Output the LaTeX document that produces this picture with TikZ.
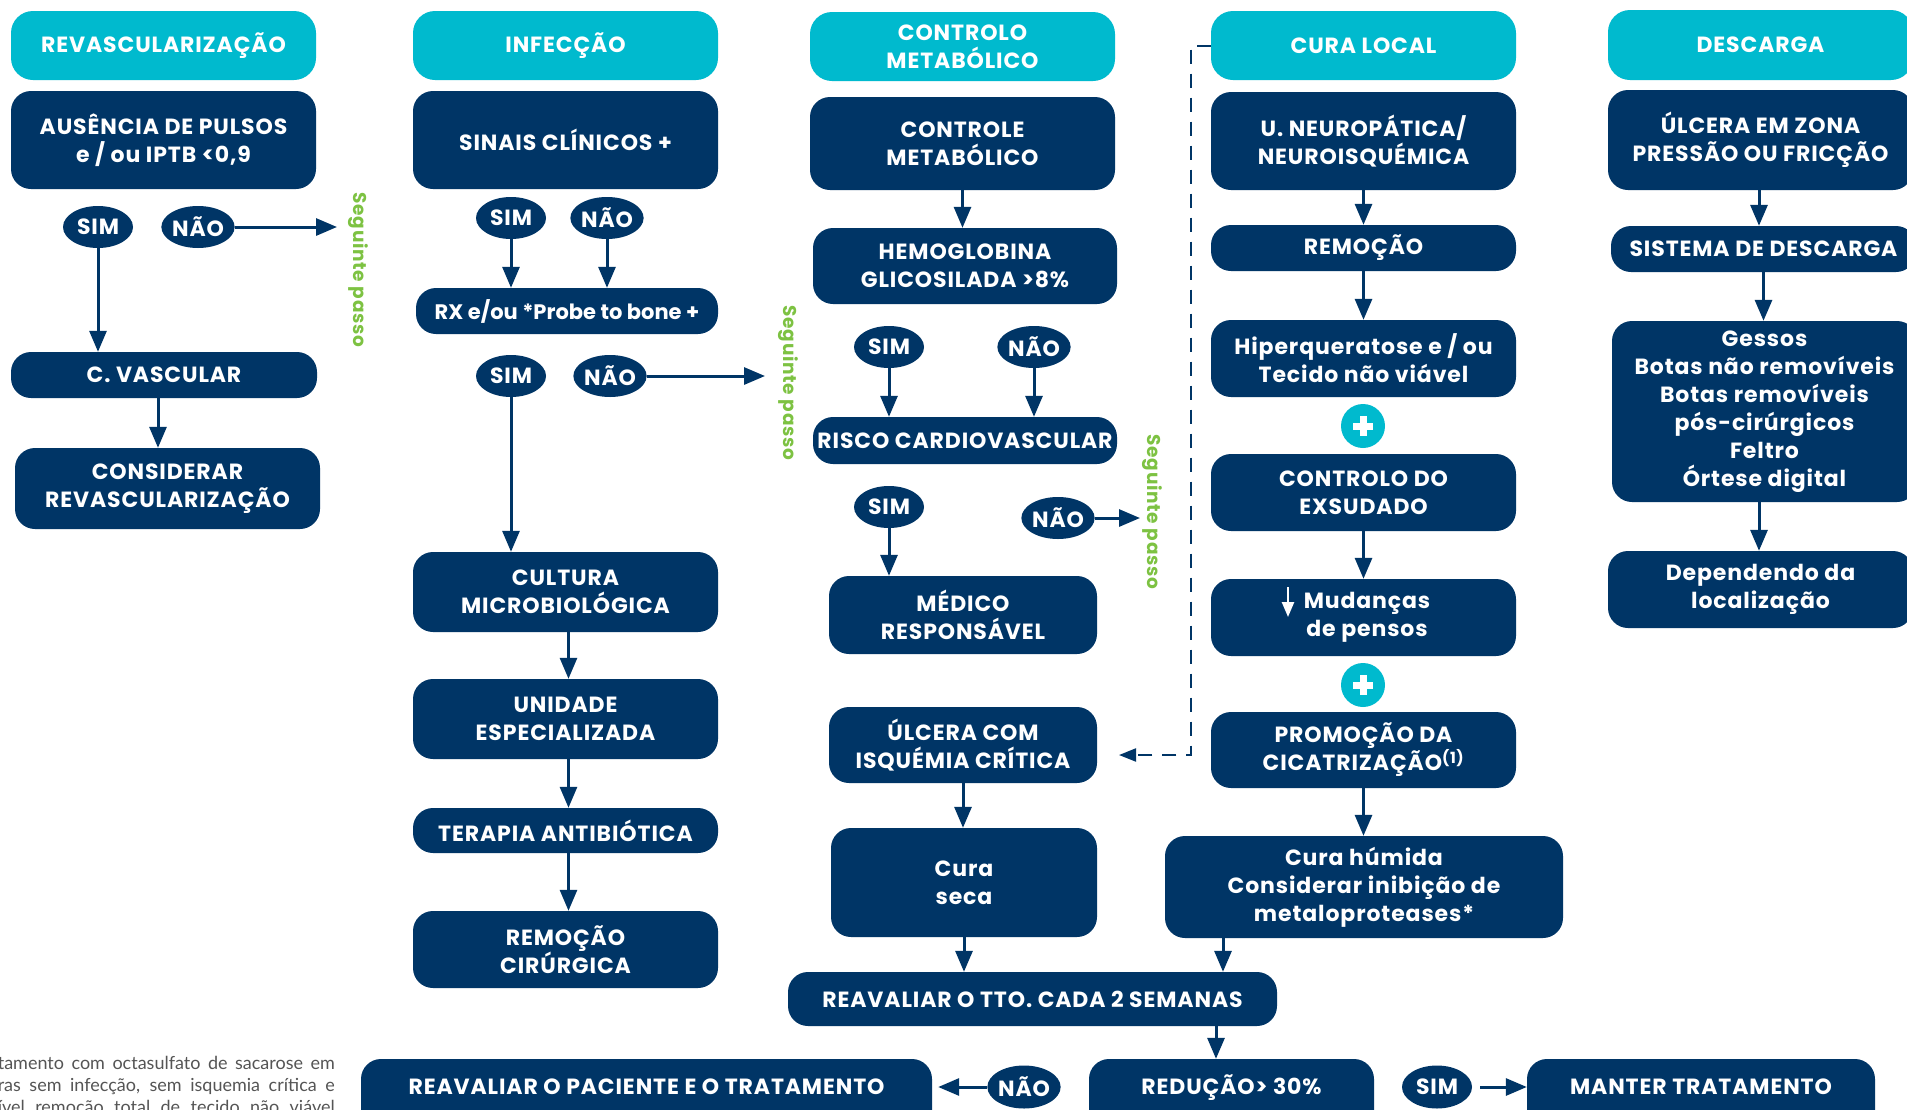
\documentclass[tikz,border=0pt]{standalone}
\usepackage{fontspec}
\setmainfont{Poppins}[LetterSpace=4]
\newfontfamily\plainfont{Poppins}
\newfontfamily\footfont{Lato}
\usetikzlibrary{arrows.meta,calc,shapes.geometric}
\definecolor{navy}{RGB}{0,53,102}
\definecolor{cyanh}{RGB}{0,186,206}
\definecolor{greent}{RGB}{125,194,66}
\definecolor{footgray}{RGB}{85,85,85}
\tikzset{
  txt/.style={text=white, font=\bfseries\fontsize{22}{28}\selectfont, align=center},
  box/.style 2 args={txt, fill=navy, rounded corners=20pt, inner sep=0pt, minimum width=#1, minimum height=#2},
  hdr/.style 2 args={txt, fill=cyanh, rounded corners=22pt, inner sep=0pt, minimum width=#1, minimum height=#2},
  botbox/.style={txt, fill=navy, rounded corners=20pt, inner xsep=0pt, inner ysep=0pt, minimum width=#1, text height=35.5pt, text depth=45pt, anchor=base},
  ell/.style={txt, ellipse, fill=navy, inner sep=0pt, minimum width=70pt, minimum height=42pt},
  arr/.style={draw=navy, line width=3pt, -{Triangle[width=17pt,length=21pt]}},
  dsh/.style={draw=navy, line width=2pt, dash pattern=on 14pt off 10pt, -{Triangle[width=13pt,length=17pt]}},
  seg/.style={text=greent, font=\bfseries\fontsize{18.5}{18.5}\selectfont, rotate=-90},
  plusc/.style={circle, fill=cyanh, minimum size=44pt, inner sep=0pt},
  foot/.style={text=footgray, font=\footfont\fontsize{18}{22}\selectfont, anchor=east, inner sep=0pt}
}
\begin{document}
\begin{tikzpicture}[x=1pt,y=-1pt]
\path[use as bounding box] (0,0) rectangle (1907,1109);
\clip (0,0) rectangle (1907,1109);
\fill[white] (0,0) rectangle (1907,1109);

% ---------- column 1
\node[hdr={305pt}{69pt}] (h1) at (163.5,45.5) {REVASCULARIZAÇÃO};
\node[box={305pt}{98pt}] (a1) at (163.5,140) {AUSÊNCIA DE PULSOS\\e / ou IPTB <0,9};
\node[ell] (sim1) at (98,227) {SIM};
\node[ell] (nao1) at (198,227) {NÃO};
\coordinate (e1) at (337,227);
\node[seg] (sg1) at (358,270) {Seguinte passo};
\node[box={306pt}{46pt}] (cv1) at (164,375) {C. VASCULAR};
\node[box={305pt}{81pt}] (cr1) at (167.5,488.5) {CONSIDERAR\\REVASCULARIZAÇÃO};
\draw[arr] (nao1.east) -- (e1);
\draw[arr] (sim1.south) -- (sim1.south |- cv1.north);
\draw[arr] ([xshift=-6pt]cv1.south) -- ([xshift=-6pt]cv1.south |- cr1.north);

% ---------- column 2
\node[hdr={305pt}{69pt}] (h2) at (565.5,45.5) {INFECÇÃO};
\node[box={305pt}{98pt}] (s2) at (565.5,140) {SINAIS CLÍNICOS +};
\node[ell] (sim2a) at (511,218) {SIM};
\node[ell] (nao2a) at (607,218) {NÃO};
\node[box={302pt}{46pt}, font=\plainfont\bfseries\fontsize{21}{28}\selectfont] (rx2) at (567,311) {RX e/ou *Probe to bone +};
\node[ell] (sim2b) at (511,376) {SIM};
\node[ell] (nao2b) at (610,376) {NÃO};
\coordinate (e2) at (765,376);
\node[seg] (sg2) at (788,383) {Seguinte passo};
\node[box={305pt}{80pt}] (cul2) at (565.5,592) {CULTURA\\MICROBIOLÓGICA};
\node[box={305pt}{80pt}] (un2) at (565.5,719) {UNIDADE\\ESPECIALIZADA};
\node[box={305pt}{45pt}] (ter2) at (565.5,830.5) {TERAPIA ANTIBIÓTICA};
\node[box={305pt}{77pt}] (rem2) at (565.5,949.5) {REMOÇÃO\\CIRÚRGICA};
\draw[arr] (sim2a.south) -- (sim2a.south |- rx2.north);
\draw[arr] (nao2a.south) -- (nao2a.south |- rx2.north);
\draw[arr] (nao2b.east) -- (e2);
\draw[arr] (sim2b.south) -- (sim2b.south |- cul2.north);
\draw[arr] ([xshift=3pt]cul2.south) -- ([xshift=3pt]un2.north);
\draw[arr] ([xshift=3pt]un2.south) -- ([xshift=3pt]ter2.north);
\draw[arr] ([xshift=3pt]ter2.south) -- ([xshift=3pt]rem2.north);

% ---------- column 3
\node[hdr={305pt}{69pt}] (h3) at (962.5,46.5) {CONTROLO\\METABÓLICO};
\node[box={305pt}{93pt}] (cm3) at (962.5,143.5) {CONTROLE\\METABÓLICO};
\node[box={304pt}{76pt}] (hb3) at (965,266) {HEMOGLOBINA\\GLICOSILADA >8\%};
\node[ell] (sim3a) at (889,347) {SIM};
\node[ell] (nao3a) at (1034,347) {NÃO};
\node[box={304pt}{47pt}] (rc3) at (965,440.5) {RISCO CARDIOVASCULAR};
\node[ell] (sim3b) at (889,507) {SIM};
\node[ell] (nao3b) at (1058,518) {NÃO};
\coordinate (e3) at (1140,518);
\node[seg] (sg3) at (1152,512) {Seguinte passo};
\node[box={268pt}{78pt}] (md3) at (963,615) {MÉDICO\\RESPONSÁVEL};
\node[box={268pt}{76pt}] (ul3) at (963,745) {ÚLCERA COM\\ISQUÉMIA CRÍTICA};
\node[box={266pt}{109pt}] (cs3) at (964,882.5) {Cura\\seca};
\node[box={489pt}{54pt}] (rv) at (1032.5,999) {REAVALIAR O TTO. CADA 2 SEMANAS};
\draw[arr] (cm3.south) -- (cm3.south |- hb3.north);
\draw[arr] (sim3a.south) -- (sim3a.south |- rc3.north);
\draw[arr] (nao3a.south) -- (nao3a.south |- rc3.north);
\draw[arr] (nao3b.east) -- (e3);
\draw[arr] (sim3b.south) -- (sim3b.south |- md3.north);
\draw[arr] (ul3.south) -- (ul3.south |- cs3.north);
\draw[arr] (cs3.south) -- (cs3.south |- rv.north);

% ---------- column 4
\node[hdr={305pt}{69pt}] (h4) at (1363.5,45.5) {CURA LOCAL};
\node[box={305pt}{98pt}] (un4) at (1363.5,141) {U. NEUROPÁTICA/\\NEUROISQUÉMICA};
\node[box={305pt}{46pt}] (re4) at (1363.5,248) {REMOÇÃO};
\node[box={305pt}{77pt}] (hi4) at (1363.5,358.5) {Hiperqueratose e / ou\\Tecido não viável};
\node[plusc] (p1) at (1363,426) {};
\node[box={305pt}{77pt}] (ce4) at (1363.5,492.5) {CONTROLO DO\\EXSUDADO};
\node[box={305pt}{77pt}] (mu4) at (1363.5,617.5) {\hspace*{7pt}Mudanças\\\hspace*{7pt}de pensos};
\node[plusc] (p2) at (1363,685) {};
\node[box={305pt}{76pt}] (pr4) at (1363.5,750) {PROMOÇÃO DA\\CICATRIZAÇÃO\textsuperscript{(1)}};
\node[box={398pt}{102pt}] (ch4) at (1364,887) {Cura húmida\\Considerar inibição de\\metaloproteases*};
\foreach \p in {p1,p2}{
  \fill[white] ([xshift=-10pt,yshift=-3.5pt]\p.center) rectangle ([xshift=10pt,yshift=3.5pt]\p.center);
  \fill[white] ([xshift=-3.5pt,yshift=-10pt]\p.center) rectangle ([xshift=3.5pt,yshift=10pt]\p.center);
}
\coordinate (ma1) at (1288,587);
\coordinate (ma2) at (1288,617);
\draw[white, line width=2.5pt, -{Triangle[width=12pt,length=15pt]}] (ma1) -- (ma2);
\draw[arr] (un4.south) -- (re4.north);
\draw[arr] (re4.south) -- (hi4.north);
\draw[arr] (ce4.south) -- (mu4.north);
\draw[arr] (pr4.south) -- (ch4.north -| pr4.south);
\coordinate (chx) at (1223,0);
\draw[arr] (ch4.south -| chx) -- (rv.north -| chx);
\coordinate (d1) at (1191,45.5);
\coordinate (d2) at (1191,755);
\coordinate (d3) at (1119,755);
\draw[dsh] (h4.west) -- (d1) -- (d2) -- (d3);

% ---------- column 5
\node[hdr={305pt}{70pt}] (h5) at (1760.5,45) {DESCARGA};
\node[box={305pt}{100pt}] (uz5) at (1760.5,140) {ÚLCERA EM ZONA\\PRESSÃO OU FRICÇÃO};
\node[box={305pt}{46pt}] (sd5) at (1763.5,249) {SISTEMA DE DESCARGA};
\node[box={305pt}{181pt}] (ge5) at (1764.5,411.5) {Gessos\\Botas não removíveis\\Botas removíveis\\pós-cirúrgicos\\Feltro\\Órtese digital};
\node[box={305pt}{77pt}] (de5) at (1760.5,589.5) {Dependendo da\\localização};
\draw[arr] ([xshift=-1.5pt]uz5.south) -- ([xshift=-1.5pt]uz5.south |- sd5.north);
\draw[arr] (sd5.south) -- (sd5.south |- ge5.north);
\draw[arr] ([xshift=-5.5pt]ge5.south) -- ([xshift=-5.5pt]ge5.south |- de5.north);

% ---------- bottom row
\node[botbox=571pt] (rp) at (646.5,1094.5) {REAVALIAR O PACIENTE E O TRATAMENTO};
\node[ell, minimum width=72pt, minimum height=43pt] (nao4) at (1024,1087) {NÃO};
\node[botbox=285pt] (red) at (1231.5,1094.5) {REDUÇÃO> 30\%};
\node[ell, minimum width=70pt, minimum height=43pt] (sim4) at (1437,1087) {SIM};
\node[botbox=348pt] (mt) at (1701,1094.5) {MANTER TRATAMENTO};
\coordinate (rvx) at (1216,0);
\draw[arr] (rv.south -| rvx) -- (red.north -| rvx);
\draw[arr] (nao4.west) -- ([xshift=6pt]rp.east |- nao4.west);
\draw[arr] ([xshift=8pt]sim4.east) -- (mt.west |- sim4.east);

% ---------- footnote
\node[foot] (f1) at (335,1063) {\makebox[337pt][s]{tamento com octasulfato de sacarose em}};
\node[foot] (f2) at (335,1086) {\makebox[337pt][s]{ras sem infecção, sem isquemia crítica e}};
\node[foot] (f3) at (335,1108) {\makebox[337pt][s]{ível remoção total de tecido não viável}};
\end{tikzpicture}
\end{document}
